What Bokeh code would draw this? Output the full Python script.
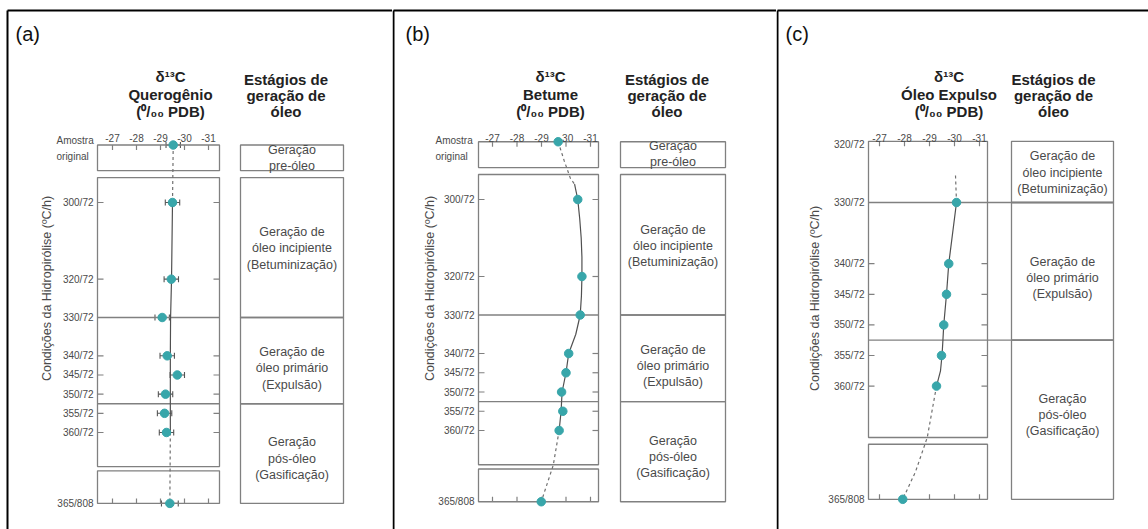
import math
from bokeh.plotting import figure
from bokeh.layouts import row
from bokeh.models import Range1d, ColumnDataSource, Whisker, TeeHead
from bokeh.core.properties import value
from bokeh.embed import file_html
from bokeh.resources import INLINE

FONT = "Liberation Sans"

# ---------------- data ----------------
x_ticks = [-27, -28, -29, -30, -31]
x_tick_labels = ["-27", "-28", "-29", "-30", "-31"]

# (a) Querogênio
a_labels = ["Amostra original", "300/72", "320/72", "330/72", "340/72", "345/72",
            "350/72", "355/72", "360/72", "365/808"]
a_pos = [285, 300, 320, 330, 340, 345, 350, 355, 360, 378.5]
a_d13c = [-29.53, -29.50, -29.45, -29.07, -29.28, -29.70, -29.21, -29.17, -29.25, -29.39]
a_err = [0.30, 0.30, 0.30, 0.30, 0.30, 0.30, 0.30, 0.30, 0.30, 0.35]
a_trend_pos = [300, 320, 330, 340, 350, 360]
a_trend_val = [-29.50, -29.46, -29.42, -29.41, -29.41, -29.41]
a_dash_top_pos = [285, 300]
a_dash_top_val = [-29.53, -29.50]
a_dash_bot_pos = [360, 378.5]
a_dash_bot_val = [-29.41, -29.39]

# (b) Betume
b_labels = a_labels
b_pos = a_pos
b_d13c = [-29.68, -30.48, -30.65, -30.58, -30.11, -30.00, -29.82, -29.87, -29.72, -28.99]
b_trend_pos = [296, 300, 305, 310, 315, 320, 325, 330, 335, 340, 345, 350, 355, 360]
b_trend_val = [-30.35, -30.48, -30.56, -30.62, -30.65, -30.65, -30.63, -30.58, -30.40, -30.11,
               -30.00, -29.84, -29.80, -29.72]
b_dash_top_pos = [285, 290, 294.5, 296]
b_dash_top_val = [-29.68, -29.93, -30.18, -30.35]
b_dash_bot_pos = [360, 369, 378.5]
b_dash_bot_val = [-29.72, -29.48, -28.99]

# (c) Óleo Expulso
c_labels = ["330/72", "340/72", "345/72", "350/72", "355/72", "360/72", "365/808"]
c_pos = [330, 340, 345, 350, 355, 360, 378.5]
c_d13c = [-30.08, -29.77, -29.68, -29.57, -29.48, -29.28, -27.93]
c_trend_pos = [330, 340, 345, 350, 353, 355, 357.5, 360]
c_trend_val = [-30.08, -29.77, -29.68, -29.57, -29.53, -29.50, -29.44, -29.28]
c_dash_top_pos = [325.6, 330]
c_dash_top_val = [-30.04, -30.08]
c_dash_bot_pos = [360, 368.4, 374, 378.5]
c_dash_bot_val = [-29.28, -28.91, -28.44, -27.93]

ab_ytick_labels = ["300/72", "320/72", "330/72", "340/72", "345/72", "350/72", "355/72", "360/72", "365/808"]
ab_ytick_pos = [300, 320, 330, 340, 345, 350, 355, 360, 378.5]
ab_inner_ticks = [300, 320, 340, 345, 350, 355, 360]
c_ytick_labels = ["320/72", "330/72", "340/72", "345/72", "350/72", "355/72", "360/72", "365/808"]
c_ytick_pos = [320.5, 330, 340, 345, 350, 355, 360, 378.5]
c_inner_ticks = [340, 345, 350, 355, 360]

stage_names = ["Geração\npre-óleo",
               "Geração de\nóleo incipiente\n(Betuminização)",
               "Geração de\nóleo primário\n(Expulsão)",
               "Geração\npós-óleo\n(Gasificação)"]
ab_stage_top = [285, 293.5, 330, 352.5]
ab_stage_bottom = [291.7, 330, 352.5, 378.5]
ab_stage_text = [288.3, 312.0, 343.3, 366.8]
c_stage_top = [320, 330, 352.5]
c_stage_bottom = [330, 352.5, 378.5]
c_stage_text = [325.1, 342.3, 364.7]
stage_bounds = [330, 352.5]

titles = {"a": "Querogênio", "b": "Betume", "c": "Óleo Expulso"}

TEAL = "#38a6aa"
BOX = "#808080"
TXT = "#4a4a4a"
CURVE = "#505050"


def make_panel(key, width, x27, xs, yref_val, yref_px, ys, border_px, dbox, sbox,
               boxes_y, labels, pos, d13c, err, trend, dash_top, dash_bot,
               ytick_labels, ytick_pos, inner_ticks, stg_names, stg_top, stg_bot, stg_text,
               top_ticks_y, bottom_ticks_y, continuous_bounds, ylab_px, amostra_px, letter_px):
    X = lambda px: -27 - (px - x27) / xs
    Y = lambda py: yref_val + (py - yref_px) / ys
    ux = 1.0 / xs  # data units per px
    uy = 1.0 / ys
    p = figure(width=width, height=529, x_range=Range1d(X(0), X(width)),
               y_range=Range1d(Y(529), Y(0)), output_backend="svg", toolbar_location=None,
               x_axis_location=None, y_axis_location=None, min_border=0,
               background_fill_color="white", border_fill_color="white")
    p.min_border_left = p.min_border_right = p.min_border_top = p.min_border_bottom = 0
    p.grid.visible = False
    p.outline_line_color = None

    # panel border
    p.segment(x0=[X(border_px), X(border_px)], y0=[Y(10), Y(10)],
              x1=[X(border_px), X(width + 5)], y1=[Y(540), Y(10)],
              line_color="black", line_width=2)

    # panel letter
    p.text(x=[X(letter_px)], y=[Y(33)], text=["(" + key + ")"], text_font=value(FONT),
           text_font_size="20px", text_color="#111111", text_align="left", text_baseline="middle")

    dl, dr = X(dbox[0]), X(dbox[1])
    sl, sr = X(sbox[0]), X(sbox[1])
    dcx = X((dbox[0] + dbox[1]) / 2 + (21 if key == "c" else 12))
    scx = X((sbox[0] + sbox[1]) / 2 - (9 if key == "c" else 6))

    # titles
    p.text(x=[dcx] * 3, y=[Y(76), Y(94), Y(111)],
           text=["δ¹³C", titles[key], "(⁰/₀₀ PDB)"], text_font=value(FONT), text_font_style="bold",
           text_font_size="15px", text_color="#222222", text_align="center", text_baseline="middle")
    p.text(x=[scx] * 3, y=[Y(79), Y(95), Y(111)],
           text=["Estágios de", "geração de", "óleo"], text_font=value(FONT), text_font_style="bold",
           text_font_size="15px", text_color="#222222", text_align="center", text_baseline="middle")

    # data boxes
    p.quad(left=[dl] * len(boxes_y), right=[dr] * len(boxes_y),
           top=[b[0] for b in boxes_y], bottom=[b[1] for b in boxes_y],
           fill_color=None, line_color=BOX, line_width=1.3)
    # stage boxes
    p.quad(left=[sl] * len(stg_top), right=[sr] * len(stg_top), top=stg_top, bottom=stg_bot,
           fill_color=None, line_color=BOX, line_width=1.3)
    # stage boundary lines across data box
    if continuous_bounds:
        p.segment(x0=[dl] * 2, x1=[sr] * 2, y0=stage_bounds, y1=stage_bounds, line_color=BOX, line_width=1.3)
    else:
        p.segment(x0=[dl] * 2, x1=[dr] * 2, y0=stage_bounds, y1=stage_bounds, line_color=BOX, line_width=1.3)

    # x ticks (top of upper box, bottom of lower box)
    p.segment(x0=x_ticks, x1=x_ticks, y0=[top_ticks_y] * 5, y1=[top_ticks_y + 5 * uy] * 5,
              line_color=BOX, line_width=1.2)
    p.segment(x0=x_ticks, x1=x_ticks, y0=[bottom_ticks_y] * 5, y1=[bottom_ticks_y - 5 * uy] * 5,
              line_color=BOX, line_width=1.2)
    p.text(x=x_ticks, y=[Y(137)] * 5, text=x_tick_labels, text_font=value(FONT),
           text_font_size="10px", text_color=TXT, text_align="center", text_baseline="middle")

    # y ticks inside the main box
    p.segment(x0=[dl] * len(inner_ticks), x1=[dl - 6 * ux] * len(inner_ticks), y0=inner_ticks, y1=inner_ticks,
              line_color=BOX, line_width=1.2)
    p.segment(x0=[dr] * len(inner_ticks), x1=[dr + 6 * ux] * len(inner_ticks), y0=inner_ticks, y1=inner_ticks,
              line_color=BOX, line_width=1.2)
    p.text(x=[X(dbox[0] - 4)] * len(ytick_pos), y=ytick_pos, text=ytick_labels, text_font=value(FONT),
           text_font_size="10px", text_color=TXT, text_align="right", text_baseline="middle")

    if amostra_px is not None:
        words = labels[0].split(" ")
        p.text(x=[X(amostra_px)] * 2, y=[Y(140), Y(156)], text=words, text_font=value(FONT),
               text_font_size="10px", text_color=TXT, text_align="left", text_baseline="middle")

    # y axis title
    p.text(x=[X(ylab_px[0])], y=[Y(ylab_px[1])], text=["Condições da Hidropirólise (ºC/h)"],
           text_font=value(FONT), text_font_size="12.5px", text_color=TXT, angle=math.pi / 2,
           text_align="center", text_baseline="middle")

    # stage texts
    p.text(x=[(sl + sr) / 2] * len(stg_names), y=stg_text, text=stg_names, text_font=value(FONT),
           text_font_size="12.5px", text_color=TXT, text_align="center", text_baseline="middle",
           text_line_height=1.15)

    # trend lines
    p.line(x=dash_top[1], y=dash_top[0], line_color="#707070", line_width=1.2, line_dash="3 3")
    p.line(x=dash_bot[1], y=dash_bot[0], line_color="#707070", line_width=1.2, line_dash="3 3")
    p.line(x=trend[1], y=trend[0], line_color=CURVE, line_width=1.2)

    if err is not None:
        src = ColumnDataSource(dict(y=pos, lo=[v - e for v, e in zip(d13c, err)],
                                    hi=[v + e for v, e in zip(d13c, err)]))
        w = Whisker(source=src, base="y", lower="lo", upper="hi", dimension="width",
                    line_color="#555555", line_width=1.1,
                    upper_head=TeeHead(size=6, line_color="#555555", line_width=1.1),
                    lower_head=TeeHead(size=6, line_color="#555555", line_width=1.1))
        p.add_layout(w)

    p.scatter(x=d13c, y=pos, size=8.5, fill_color=TEAL, line_color=TEAL)
    return p


pa = make_panel("a", 392, 112, 24.0, 300, 202, 3.833, 7, (97, 219), (240, 343),
                [(285, 291.7), (293.5, 368.9), (370, 378.5)],
                a_labels, a_pos, a_d13c, a_err, (a_trend_pos, a_trend_val),
                (a_dash_top_pos, a_dash_top_val), (a_dash_bot_pos, a_dash_bot_val),
                ab_ytick_labels[:], ab_ytick_pos[:], ab_inner_ticks, stage_names, ab_stage_top,
                ab_stage_bottom, ab_stage_text, 285, 378.5, False, (46, 288), 56, 15)
pb = make_panel("b", 384, 100, 24.5, 300, 199, 3.85, 1, (86, 206), (228, 333),
                [(285, 291.7), (293.5, 368.9), (370, 378.5)],
                b_labels, b_pos, b_d13c, None, (b_trend_pos, b_trend_val),
                (b_dash_top_pos, b_dash_top_val), (b_dash_bot_pos, b_dash_bot_val),
                ab_ytick_labels[:], ab_ytick_pos[:], ab_inner_ticks, stage_names, ab_stage_top,
                ab_stage_bottom, ab_stage_text, 285, 378.5, False, (37, 288), 43, 13)
pc = make_panel("c", 372, 103, 25.0, 330, 202, 6.12, 1, (92, 211), (235, 337),
                [(320, 368.4), (369.5, 378.5)],
                c_labels, c_pos, c_d13c, None, (c_trend_pos, c_trend_val),
                (c_dash_top_pos, c_dash_top_val), (c_dash_bot_pos, c_dash_bot_val),
                c_ytick_labels, c_ytick_pos, c_inner_ticks, stage_names[1:], c_stage_top,
                c_stage_bottom, c_stage_text, 320, 378.5, True, (38.5, 298), None, 9)

layout = row(pa, pb, pc, spacing=0)
open("out.html", "w").write(file_html(layout, INLINE))
